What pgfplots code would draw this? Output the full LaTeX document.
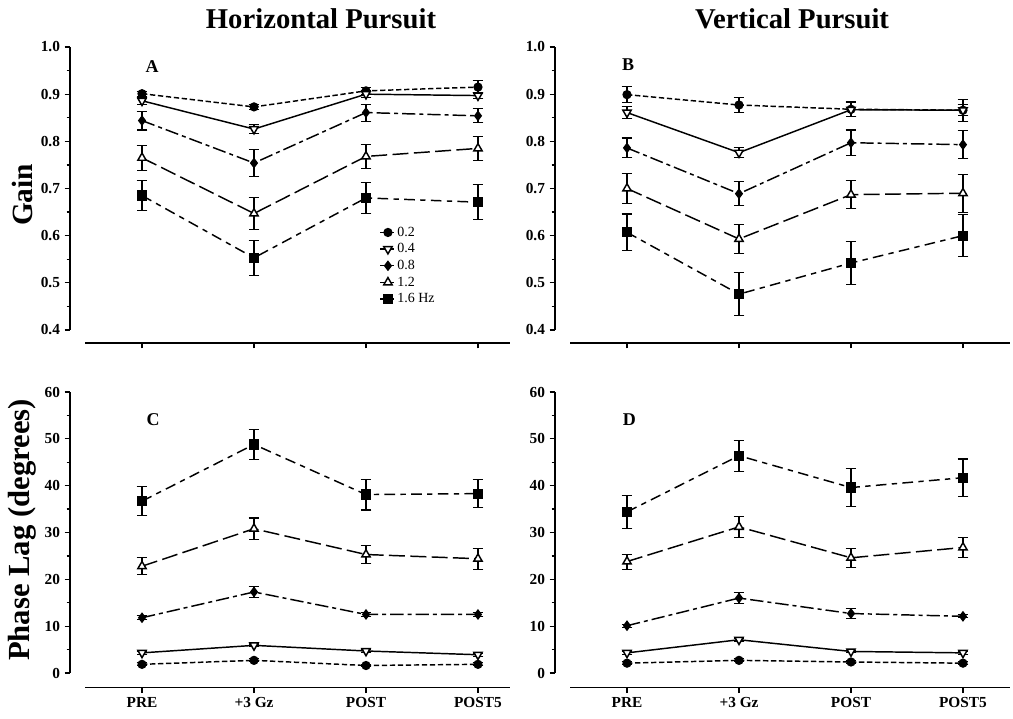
\documentclass[border=0pt]{standalone}
\usepackage{fontspec}
\setmainfont{Liberation Serif}
\usepackage{pgfplots}
\usepackage{pgfplotstable}
\pgfplotsset{compat=1.18}

% Panel A: horizontal gain
\pgfplotstableread{
x y02 e02 y04 e04 y08 e08 y12 e12 y16 e16
0 0.901 0.005 0.886 0.008 0.844 0.020 0.765 0.027 0.685 0.032
1 0.873 0.006 0.826 0.010 0.754 0.028 0.647 0.034 0.553 0.037
2 0.907 0.008 0.900 0.008 0.861 0.018 0.768 0.026 0.680 0.033
3 0.915 0.014 0.897 0.006 0.854 0.015 0.785 0.026 0.671 0.037
}\tabA
% Panel B: vertical gain
\pgfplotstableread{
x y02 e02 y04 e04 y08 e08 y12 e12 y16 e16
0 0.899 0.017 0.861 0.012 0.786 0.021 0.700 0.031 0.607 0.039
1 0.877 0.015 0.776 0.010 0.689 0.026 0.593 0.030 0.476 0.045
2 0.868 0.016 0.867 0.015 0.797 0.027 0.687 0.030 0.542 0.046
3 0.866 0.012 0.866 0.023 0.793 0.030 0.690 0.040 0.600 0.045
}\tabB
% Panel C: horizontal phase lag
\pgfplotstableread{
x y02 e02 y04 e04 y08 e08 y12 e12 y16 e16
0 1.85 0.3 4.3 0.3 11.8 0.4 22.8 1.8 36.7 3.1
1 2.70 0.3 5.9 0.3 17.3 1.1 30.8 2.3 48.8 3.2
2 1.60 0.3 4.7 0.3 12.5 0.4 25.3 2.0 38.1 3.3
3 1.85 0.3 3.9 0.3 12.5 0.4 24.4 2.2 38.3 3.0
}\tabC
% Panel D: vertical phase lag
\pgfplotstableread{
x y02 e02 y04 e04 y08 e08 y12 e12 y16 e16
0 2.10 0.3 4.3 0.3 10.1 0.3 23.8 1.6 34.4 3.5
1 2.70 0.3 7.1 0.3 16.0 1.1 31.2 2.3 46.4 3.3
2 2.35 0.3 4.6 0.3 12.7 1.0 24.6 2.0 39.6 4.1
3 2.10 0.3 4.3 0.3 12.1 0.3 26.8 2.1 41.7 4.0
}\tabD

\pgfplotsset{
  panel/.style={
    scale only axis,
    anchor=south west,
    axis x line*=bottom, axis y line*=left, separate axis lines,
    axis line style={line width=1.2pt},
    x axis line style={shorten <=11.25pt},
    tick align=outside,
    major tick length=4pt, minor tick length=2.5pt,
    every tick/.append style={black, line width=0.9pt},
    xtick={0,1,2,3},
    minor x tick num=0, minor y tick num=1,
    xmin=-0.643,
    yticklabel style={font=\bfseries\fontsize{11.5}{13}\selectfont},
    xticklabel style={font=\bfseries\fontsize{11.5}{13}\selectfont},
    /pgf/number format/assume math mode=true,
    clip=false,
    error bars/y dir=both, error bars/y explicit,
    error bars/error bar style={solid, line width=0.8pt},
    error bars/error mark options={solid, rotate=90, mark size=4pt, line width=0.8pt},
  },
  gainpanel/.style={panel, height=212.25pt, ymin=0.4, ymax=1.0, ytick={0.4,0.5,...,1.0},
    yticklabel style={/pgf/number format/.cd, fixed, fixed zerofill, precision=1},
    axis x line shift=9.75pt, xticklabels={}},
  phasepanel/.style={panel, height=210.75pt, ymin=0, ymax=60, ytick={0,10,...,60},
    axis x line shift=11pt, xticklabels={PRE,+3 Gz,POST,POST5}},
  s02/.style={black, line width=1.1pt, mark=*, mark size=2.9pt, mark options={solid}, dash pattern=on 4pt off 2pt},
  s04/.style={black, line width=1.1pt, mark=triangle*, mark size=3.6pt, mark options={solid, rotate=180, fill=white}, solid},
  s08/.style={black, line width=1.1pt, mark=diamond*, mark size=3.2pt, mark options={solid}, dash pattern=on 10pt off 3pt on 3pt off 3pt},
  s12/.style={black, line width=1.1pt, mark=triangle*, mark size=3.6pt, mark options={solid, fill=white}, dash pattern=on 12pt off 4pt},
  s16/.style={black, line width=1.1pt, mark=square*, mark size=3.3pt, mark options={solid}, dash pattern=on 8pt off 4pt on 4pt off 4pt},
}

\newcommand{\fiveseries}[1]{%
  \addplot[s02] table[x=x, y=y02, y error=e02] {#1};
  \addplot[s04] table[x=x, y=y04, y error=e04] {#1};
  \addplot[s08] table[x=x, y=y08, y error=e08] {#1};
  \addplot[s12] table[x=x, y=y12, y error=e12] {#1};
  \addplot[s16] table[x=x, y=y16, y error=e16] {#1};
}
\newcommand{\letterfont}{\bfseries\fontsize{13.5}{15}\selectfont}

\begin{document}
\begin{tikzpicture}
\useasboundingbox (0,0) rectangle (759.75pt,538.5pt);

% Panel A
\begin{axis}[gainpanel, at={(52.5pt,291pt)}, width=330pt, xmax=3.286,
  legend style={at={(axis cs:2.12,0.625)}, anchor=north west, draw=none, fill=none,
    font=\fontsize{10.5}{11}\selectfont, row sep=0pt, inner sep=0pt},
  legend cell align=left,
  legend image code/.code={%
    \draw[#1, solid, line width=1pt] (0cm,0cm) -- (0.36cm,0cm);
    \draw[#1] plot coordinates {(0.2cm,0cm)};},
]
\fiveseries{\tabA}
\legend{0.2,0.4,0.8,1.2,1.6 Hz}
\node[font=\letterfont] at (axis cs:0.09,0.958) {A};
\end{axis}

% Panel B
\begin{axis}[gainpanel, at={(416.25pt,291pt)}, width=341.25pt, xmax=3.42]
\fiveseries{\tabB}
\node[font=\letterfont] at (axis cs:0.01,0.962) {B};
\end{axis}

% Panel C
\begin{axis}[phasepanel, at={(52.5pt,33.75pt)}, width=330pt, xmax=3.286]
\fiveseries{\tabC}
\node[font=\letterfont] at (axis cs:0.1,54) {C};
\end{axis}

% Panel D
\begin{axis}[phasepanel, at={(416.25pt,33.75pt)}, width=341.25pt, xmax=3.42]
\fiveseries{\tabD}
\node[font=\letterfont] at (axis cs:0.02,54) {D};
\end{axis}

% Titles and y labels
\node[font=\bfseries\fontsize{21.5}{24}\selectfont] at (240.75pt,524.25pt) {Horizontal Pursuit};
\node[font=\bfseries\fontsize{21.5}{24}\selectfont] at (594pt,524.25pt) {Vertical Pursuit};
\node[font=\bfseries\fontsize{22}{24}\selectfont, rotate=90] at (16.5pt,392.25pt) {Gain};
\node[font=\bfseries\fontsize{23}{26}\selectfont, rotate=90] at (17pt,141pt) {Phase Lag (degrees)};
\end{tikzpicture}
\end{document}
